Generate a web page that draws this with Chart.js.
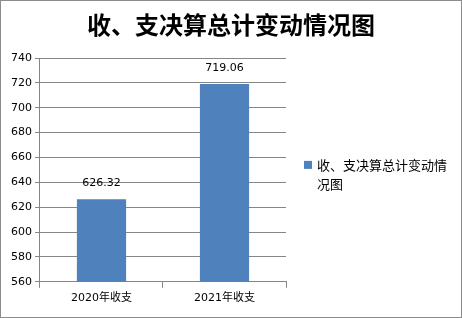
<!DOCTYPE html>
<html>
<head>
<meta charset="utf-8">
<script src="https://cdn.jsdelivr.net/npm/chart.js@4"></script>
<style>
  body { margin: 0; background: #fff; }
  #wrap { width: 460px; height: 316px; border: 1px solid #8c8c8c; }
</style>
</head>
<body>
<div id="wrap"><canvas id="chart" width="460" height="316"></canvas></div>
<script>
// datos del gráfico
const categorias = ['2020年收支', '2021年收支'];
const valores = [626.32, 719.06];
const serieNombre = ['收、支决算总计变动情', '况图'];
const titulo = '收、支决算总计变动情况图';
const yMin = 560;
const yMax = 740;
const yPaso = 20;

const fuente = "'DejaVu Sans', 'Noto Sans CJK SC', sans-serif";
const fuenteCJK = "'Noto Sans CJK SC', sans-serif";

// título centrado en todo el lienzo
const tituloPlugin = {
    id: 'tituloCentrado',
    afterDraw(chart) {
        const ctx = chart.ctx;
        ctx.save();
        ctx.font = 'bold 24px ' + fuenteCJK;
        ctx.fillStyle = '#000';
        ctx.textAlign = 'center';
        ctx.textBaseline = 'middle';
        ctx.fillText(titulo, chart.width / 2, 24);
        ctx.restore();
    }
};

// etiquetas encima de las barras
const etiquetasPlugin = {
    id: 'etiquetas',
    afterDatasetsDraw(chart) {
        const ctx = chart.ctx;
        const meta = chart.getDatasetMeta(0);
        ctx.save();
        ctx.font = '11px ' + fuente;
        ctx.fillStyle = '#000';
        ctx.textAlign = 'center';
        ctx.textBaseline = 'middle';
        meta.data.forEach((bar, i) => {
            ctx.fillText(valores[i].toFixed(2), bar.x, bar.y - 16);
        });
        ctx.restore();
    }
};

// leyenda a la derecha, con el nombre en dos líneas
const leyendaPlugin = {
    id: 'leyenda',
    afterDraw(chart) {
        const ctx = chart.ctx;
        const ds = chart.data.datasets[0];
        const area = chart.chartArea;
        const x = area.right + 18;
        const yc = (area.top + area.bottom) / 2 - 5;
        ctx.save();
        ctx.fillStyle = ds.backgroundColor;
        ctx.fillRect(x, yc - 4, 8, 8);
        ctx.font = '13px ' + fuenteCJK;
        ctx.fillStyle = '#000';
        ctx.textBaseline = 'middle';
        ds.label.forEach((linea, i) => {
            ctx.fillText(linea, x + 13, yc + i * 19);
        });
        ctx.restore();
    }
};

const ctx = document.getElementById('chart').getContext('2d');
const chart = new Chart(ctx, {
    type: 'bar',
    data: {
        labels: categorias,
        datasets: [{
            label: serieNombre,
            data: valores,
            backgroundColor: '#4F81BD',
            borderWidth: 0,
            categoryPercentage: 0.4,
            barPercentage: 1
        }]
    },
    options: {
        responsive: false,
        animation: false,
        layout: { padding: { left: 7, right: 175, top: 57, bottom: 8 } },
        plugins: {
            title: { display: false },
            legend: { display: false },
            tooltip: { enabled: false }
        },
        scales: {
            x: {
                grid: { drawOnChartArea: false, drawTicks: true, tickLength: 6, color: '#868686', offset: true },
                border: { color: '#868686' },
                ticks: { color: '#000', font: { family: fuente, size: 11 }, padding: 4 }
            },
            y: {
                min: yMin,
                max: yMax,
                ticks: { stepSize: yPaso, color: '#000', font: { family: fuente, size: 11 }, padding: 3 },
                grid: { color: '#868686', tickLength: 5 },
                border: { color: '#868686' }
            }
        }
    },
    plugins: [tituloPlugin, etiquetasPlugin, leyendaPlugin]
});
</script>
</body>
</html>
